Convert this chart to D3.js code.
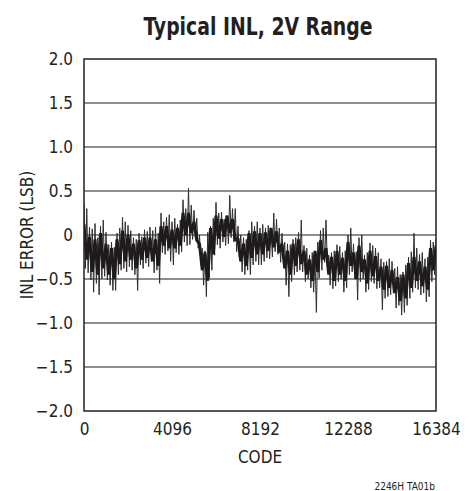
<!DOCTYPE html>
<html>
<head>
    <meta charset="utf-8">
    <title>Typical INL, 2V Range</title>
    <script src="https://d3js.org/d3.v7.min.js"></script>
    <style>
        body {
            margin: 0;
            background: #fff;
        }

        svg text {
            font-family: "Liberation Sans Narrow", "DejaVu Sans Condensed", "Arial Narrow", sans-serif;
            font-stretch: condensed;
            fill: #231f20;
        }
    </style>
</head>
<body>
    <svg width="473" height="491"></svg>
    <script>
        // x ticks (code) and y ticks (LSB)
        var xTicks = [0, 4096, 8192, 12288, 16384];
        var xTickLabels = ["0", "4096", "8192", "12288", "16384"];
        var yTicks = [2, 1.5, 1, 0.5, 0, -0.5, -1, -1.5, -2];
        var yTickLabels = ["2.0", "1.5", "1.0", "0.5", "0", "\u22120.5", "\u22121.0", "\u22121.5", "\u22122.0"];

        // INL spikes, one peak and one trough per 128 codes
        var codeStep = 128;
        var inlHigh = [
            0.36, 0.30, 0.09, 0.07, 0.13, -0.03, 0.10, 0.17, 0.03, -0.11,
            -0.08, -0.14, 0.02, 0.08, 0.20, 0.15, 0.11, 0.05, -0.03, -0.05,
            0.02, -0.02, 0.06, 0.04, 0.09, 0.05, 0.09, 0.02, 0.25, 0.15,
            0.20, 0.23, 0.15, 0.19, 0.12, 0.17, 0.40, 0.30, 0.53, 0.34,
            0.28, 0.19, 0.00, -0.15, -0.18, 0.03, 0.10, 0.19, 0.37, 0.25,
            0.26, 0.18, 0.22, 0.45, 0.30, 0.30, 0.10, 0.00, -0.03, -0.05,
            0.05, 0.15, 0.10, 0.15, 0.08, 0.12, 0.08, 0.11, 0.05, 0.25,
            0.18, 0.08, 0.02, -0.08, -0.10, -0.11, -0.05, -0.03, 0.03, 0.17,
            -0.12, -0.15, -0.23, -0.20, -0.25, -0.08, 0.05, 0.08, 0.17, -0.23,
            -0.20, -0.18, -0.11, -0.13, -0.20, -0.18, 0.00, 0.08, -0.10, -0.19,
            -0.03, 0.00, -0.23, -0.20, -0.09, -0.12, -0.15, -0.20, -0.27, -0.31,
            -0.30, -0.27, -0.30, -0.38, -0.36, -0.45, -0.42, -0.34, -0.25, -0.19,
            0.02, -0.15, -0.22, -0.20, -0.27, -0.25, -0.06, -0.08, -0.05
        ];
        var inlLow = [
            -0.38, -0.43, -0.51, -0.65, -0.55, -0.68, -0.50, -0.47, -0.51, -0.57,
            -0.63, -0.63, -0.45, -0.40, -0.38, -0.42, -0.36, -0.40, -0.45, -0.63,
            -0.34, -0.38, -0.32, -0.36, -0.30, -0.43, -0.40, -0.55, -0.20, -0.22,
            -0.18, -0.30, -0.34, -0.20, -0.22, -0.19, -0.08, -0.12, -0.11, -0.05,
            -0.03, -0.15, -0.34, -0.57, -0.70, -0.49, -0.40, -0.23, -0.11, -0.15,
            -0.08, -0.12, -0.10, -0.03, -0.08, -0.19, -0.25, -0.42, -0.45, -0.40,
            -0.45, -0.34, -0.30, -0.34, -0.34, -0.30, -0.26, -0.27, -0.25, -0.19,
            -0.22, -0.31, -0.28, -0.57, -0.70, -0.53, -0.45, -0.42, -0.40, -0.42,
            -0.53, -0.50, -0.60, -0.65, -0.88, -0.49, -0.40, -0.31, -0.35, -0.57,
            -0.61, -0.58, -0.53, -0.50, -0.65, -0.60, -0.45, -0.42, -0.50, -0.74,
            -0.53, -0.50, -0.65, -0.62, -0.53, -0.55, -0.61, -0.60, -0.85, -0.72,
            -0.70, -0.68, -0.66, -0.83, -0.80, -0.91, -0.88, -0.80, -0.72, -0.65,
            -0.60, -0.62, -0.68, -0.66, -0.76, -0.70, -0.53, -0.45, -0.42
        ];

        // dense dark core of the trace, one peak and one trough per 256 codes
        var coreStep = 256;
        var coreHigh = [
            0.12, -0.02, -0.05, 0.02, -0.10, -0.15, -0.05, 0.05, 0.00, -0.10,
            -0.06, -0.03, -0.03, -0.05, 0.10, 0.10, 0.06, 0.08, 0.25, 0.25,
            0.15, -0.10, -0.20, 0.08, 0.22, 0.18, 0.22, 0.18, -0.04, -0.10,
            0.02, 0.04, 0.02, 0.03, 0.08, 0.04, -0.10, -0.18, -0.10, -0.05,
            -0.18, -0.28, -0.18, -0.06, -0.15, -0.25, -0.18, -0.26, -0.08, -0.20,
            -0.12, -0.28, -0.18, -0.24, -0.36, -0.35, -0.40, -0.48, -0.45, -0.32,
            -0.25, -0.30, -0.36, -0.15, -0.12
        ];
        var coreLow = [
            -0.28, -0.42, -0.45, -0.38, -0.45, -0.50, -0.33, -0.30, -0.28, -0.38,
            -0.28, -0.26, -0.30, -0.35, -0.12, -0.15, -0.15, -0.12, 0.00, 0.02,
            -0.06, -0.40, -0.52, -0.22, -0.04, -0.02, 0.02, -0.06, -0.30, -0.35,
            -0.26, -0.22, -0.22, -0.18, -0.14, -0.20, -0.38, -0.45, -0.35, -0.33,
            -0.45, -0.52, -0.42, -0.28, -0.45, -0.52, -0.45, -0.52, -0.35, -0.50,
            -0.42, -0.55, -0.47, -0.52, -0.62, -0.60, -0.66, -0.75, -0.72, -0.60,
            -0.52, -0.58, -0.62, -0.40, -0.36
        ];

        var svg = d3.select("svg");

        var plotLeft = 84, plotRight = 436, plotTop = 59, plotBottom = 411;

        var x = d3.scaleLinear().domain([0, 16384]).range([plotLeft, plotRight]);
        var y = d3.scaleLinear().domain([-2, 2]).range([plotBottom, plotTop]);

        // title
        svg.append("text")
            .attr("x", 258)
            .attr("y", 35)
            .attr("text-anchor", "middle")
            .attr("textLength", 229)
            .attr("lengthAdjust", "spacingAndGlyphs")
            .style("font-size", "25px")
            .style("font-weight", "bold")
            .text("Typical INL, 2V Range");

        // horizontal grid lines
        svg.append("g")
            .selectAll("line")
            .data(yTicks.filter(d => d > -2 && d < 2))
            .enter().append("line")
            .attr("x1", plotLeft)
            .attr("x2", plotRight)
            .attr("y1", d => y(d))
            .attr("y2", d => y(d))
            .attr("stroke", "#231f20")
            .attr("stroke-width", 1.1);

        svg.append("defs").append("clipPath")
            .attr("id", "plot-clip")
            .append("rect")
            .attr("x", plotLeft).attr("y", plotTop)
            .attr("width", plotRight - plotLeft).attr("height", plotBottom - plotTop);

        var trace = svg.append("g").attr("clip-path", "url(#plot-clip)");

        // peak, trough, peak, ... as one polyline
        function zigzag(high, low, step) {
            var pts = [];
            high.forEach(function (v, i) {
                pts.push([i * step, v]);
                if (i < low.length - 1) pts.push([i * step + step / 2, low[i]]);
            });
            return pts;
        }

        var line = d3.line().x(d => x(d[0])).y(d => y(d[1]));

        trace.append("path")
            .datum(zigzag(inlHigh, inlLow, codeStep))
            .attr("fill", "none")
            .attr("stroke", "#2e2e2e")
            .attr("stroke-width", 1)
            .attr("d", line);

        trace.append("path")
            .datum(zigzag(coreHigh, coreLow, coreStep))
            .attr("fill", "none")
            .attr("stroke", "#1f1b1c")
            .attr("stroke-width", 3)
            .attr("stroke-linejoin", "bevel")
            .attr("d", line);

        // frame
        svg.append("rect")
            .attr("x", plotLeft)
            .attr("y", plotTop)
            .attr("width", plotRight - plotLeft)
            .attr("height", plotBottom - plotTop)
            .attr("fill", "none")
            .attr("stroke", "#231f20")
            .attr("stroke-width", 1.5);

        // axes (labels only)
        var yAxis = svg.append("g")
            .attr("transform", "translate(" + plotLeft + ",0)")
            .call(d3.axisLeft(y)
                .tickValues(yTicks)
                .tickSize(0)
                .tickPadding(11)
                .tickFormat((d, i) => yTickLabels[i]));
        yAxis.select(".domain").remove();
        yAxis.selectAll("text").style("font-size", "17px").attr("fill", "#231f20");

        var xAxis = svg.append("g")
            .attr("transform", "translate(0," + plotBottom + ")")
            .call(d3.axisBottom(x)
                .tickValues(xTicks)
                .tickSize(0)
                .tickPadding(12)
                .tickFormat((d, i) => xTickLabels[i]));
        xAxis.select(".domain").remove();
        xAxis.selectAll("text").style("font-size", "17px").attr("fill", "#231f20");

        // axis titles
        svg.append("text")
            .attr("x", (plotLeft + plotRight) / 2)
            .attr("y", 463)
            .attr("text-anchor", "middle")
            .style("font-size", "17px")
            .text("CODE");

        svg.append("text")
            .attr("transform", "translate(33," + (plotTop + plotBottom) / 2 + ") rotate(-90)")
            .attr("text-anchor", "middle")
            .style("font-size", "17px")
            .text("INL ERROR (LSB)");

        svg.append("text")
            .attr("x", 435)
            .attr("y", 490)
            .attr("text-anchor", "end")
            .style("font-size", "10px")
            .text("2246H TA01b");
    </script>
</body>
</html>
